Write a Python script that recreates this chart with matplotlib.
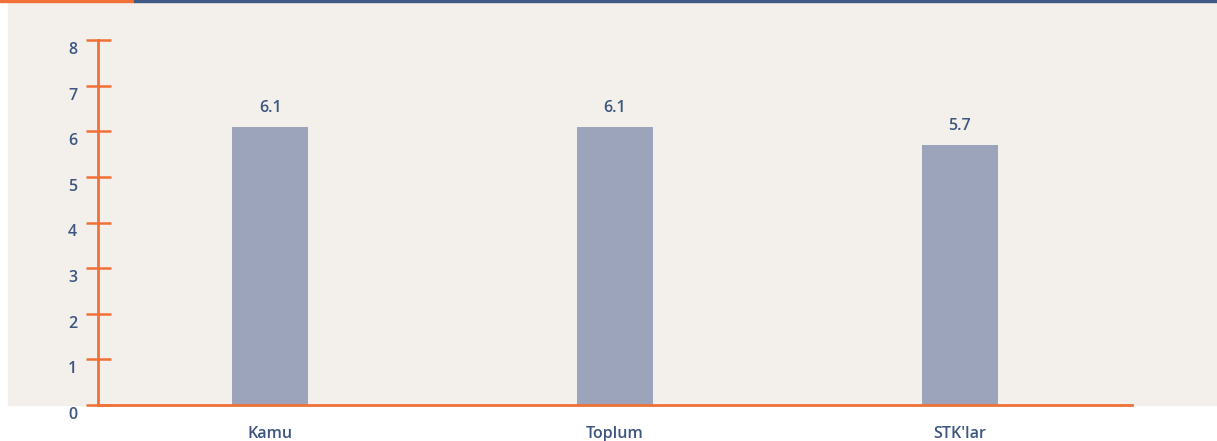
import matplotlib.pyplot as plt
import matplotlib.transforms as mtransforms
from matplotlib.patches import Rectangle

# -----------------------
# Data
# -----------------------
categories = ["Kamu", "Toplum", "STK'lar"]
values = [6.1, 6.1, 5.7]
yticks = [0, 1, 2, 3, 4, 5, 6, 7, 8]

ORANGE = "#f07037"
NAVY = "#3f5884"
TEXT = "#3d5580"
BAR = "#9ba4bb"
BG = "#f3f0eb"

plt.rcParams["font.family"] = ["Open Sans", "DejaVu Sans"]

W, H = 1217, 441
fig = plt.figure(figsize=(W / 100, H / 100), dpi=100)
fig.patch.set_facecolor("white")

# beige panel + top rule (behind the axes)
fig.patches.append(Rectangle((8 / W, (H - 405) / H), 1 - 8 / W, (405 - 2) / H,
                             transform=fig.transFigure, color=BG, zorder=-5))
fig.patches.append(Rectangle((0, 1 - 2 / H), 134 / W, 2 / H,
                             transform=fig.transFigure, color=ORANGE, zorder=-4))
fig.patches.append(Rectangle((134 / W, 1 - 2 / H), 1 - 134 / W, 2 / H,
                             transform=fig.transFigure, color=NAVY, zorder=-4))

ax = fig.add_axes([98 / W, (H - 405) / H, (1132 - 98) / W, (405 - 40) / H])
ax.set_facecolor("none")

x = list(range(len(categories)))
bars = ax.bar(x, values, width=0.22, color=BAR, zorder=2)
for b, v in zip(bars, values):
    ax.annotate(f"{v:.1f}", (b.get_x() + b.get_width() / 2, v),
                xytext=(0, 8), textcoords="offset points",
                ha="center", va="bottom", fontsize=11.5, fontweight="semibold",
                color=TEXT)

ax.set_xlim(-0.5, 2.5)
ax.set_ylim(0, 8)
ax.set_xticks(x)
ax.set_xticklabels(categories, fontweight="semibold")
ax.set_yticks(yticks)
ax.set_yticklabels([str(t) for t in yticks], fontweight="semibold")

for s in ["top", "right"]:
    ax.spines[s].set_visible(False)
ax.spines["left"].set_color(ORANGE)
ax.spines["left"].set_linewidth(2)
ax.spines["bottom"].set_color(ORANGE)
ax.spines["bottom"].set_linewidth(2)
ax.spines["bottom"].set_zorder(3)

ax.tick_params(axis="y", direction="inout", length=18, width=1.8, color=ORANGE,
               labelsize=11.5, labelcolor=TEXT, pad=6)
ax.tick_params(axis="x", length=0, labelsize=11.5, labelcolor=TEXT, pad=15)

# y tick labels sit a little below their ticks
offset = mtransforms.ScaledTranslation(0, -8 / 100, fig.dpi_scale_trans)
for lab in ax.get_yticklabels():
    lab.set_transform(lab.get_transform() + offset)

fig.savefig("out.png", dpi=100, facecolor=fig.get_facecolor())
